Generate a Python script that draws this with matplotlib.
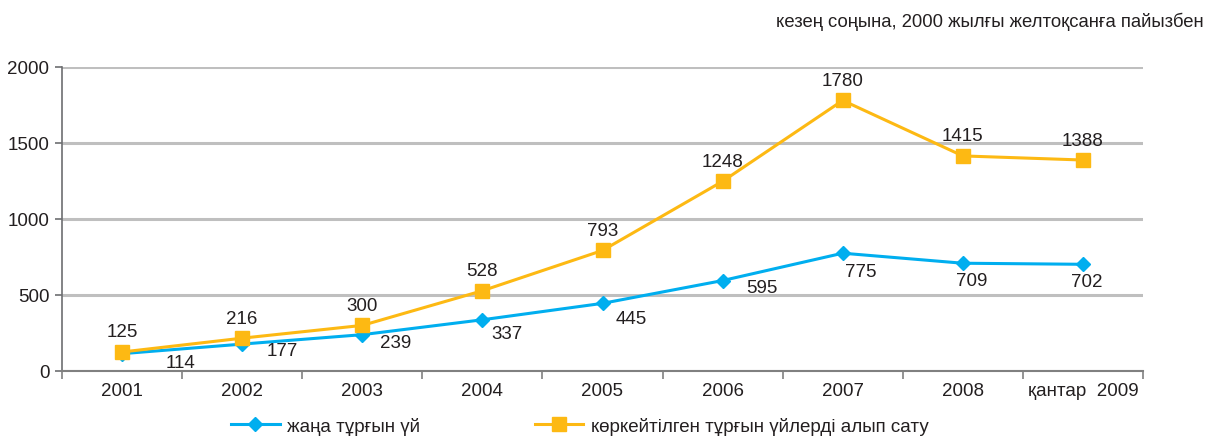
import matplotlib
matplotlib.use('Agg')
import matplotlib.pyplot as plt
import numpy as np

plt.rcParams['font.family'] = ['Liberation Sans', 'DejaVu Sans']

# ── Data ──
years = ["2001", "2002", "2003", "2004", "2005", "2006", "2007", "2008", "қантар  2009"]
new_housing = [114, 177, 239, 337, 445, 595, 775, 709, 702]
resale_housing = [125, 216, 300, 528, 793, 1248, 1780, 1415, 1388]
label_new = "жаңа тұрғын үй"
label_resale = "көркейтілген тұрғын үйлерді алып сату"
note = "кезең соңына, 2000 жылғы желтоқсанға пайызбен"

# label offsets in pixels (blue labels sit below-right of the points)
blue_offsets = [(58, -9), (40, -6), (33, -8), (25, -14), (29, -15),
                (39, -7), (18, -18), (9, -17), (4, -17)]

BLUE = "#00AEEF"
ORANGE = "#FDB913"
GRID = "#BFBFBF"
TXT = "#231F20"
FS = 13.5

fig = plt.figure(figsize=(12.06, 4.39), dpi=100)
ax = fig.add_axes([62 / 1206, 67 / 439, 1081 / 1206, 304 / 439])

x = np.arange(len(years))
ax.plot(x, new_housing, color=BLUE, lw=2.2, marker="D", markersize=7.5,
        label=label_new, zorder=3)
ax.plot(x, resale_housing, color=ORANGE, lw=2.2, marker="s", markersize=9.5,
        label=label_resale, zorder=4)

for xi, v in zip(x, resale_housing):
    ax.annotate(str(v), (xi, v), xytext=(0, 20), textcoords="offset pixels",
                ha="center", va="center", fontsize=FS, color=TXT)
for xi, v, off in zip(x, new_housing, blue_offsets):
    ax.annotate(str(v), (xi, v), xytext=off, textcoords="offset pixels",
                ha="center", va="center", fontsize=FS, color=TXT)

ax.set_xlim(-0.5, len(years) - 0.5)
ax.set_ylim(0, 2000)
ax.set_yticks([0, 500, 1000, 1500, 2000])
ax.yaxis.grid(True, color=GRID, lw=2.2)
ax.set_axisbelow(True)

ax.set_xticks(x)
ax.set_xticklabels(years)
ax.set_xticks(np.arange(-0.5, len(years)), minor=True)
ax.tick_params(axis="x", which="major", length=0, pad=8, labelsize=FS, labelcolor=TXT)
ax.tick_params(axis="x", which="minor", length=6, width=1.2, color="#808080", direction="out")
ax.tick_params(axis="y", length=5, width=1.2, color="#6D6E71", pad=4, labelsize=FS, labelcolor=TXT)

for s in ["top", "right"]:
    ax.spines[s].set_visible(False)
ax.spines["left"].set_color("#6D6E71")
ax.spines["left"].set_linewidth(1.2)
ax.spines["bottom"].set_color("#808080")
ax.spines["bottom"].set_linewidth(1.5)

fig.text(1204 / 1206, 1 - 22 / 439, note, ha="right", va="center",
         fontsize=13.3, color=TXT)

fig.legend(loc="center left", bbox_to_anchor=(231 / 1206, 1 - 427 / 439), ncol=2,
           frameon=False, fontsize=FS, handlelength=2.6, columnspacing=6.1,
           handletextpad=0.4, borderpad=0.0, borderaxespad=0.0, labelcolor=TXT)

fig.savefig("out.png", dpi=100)
